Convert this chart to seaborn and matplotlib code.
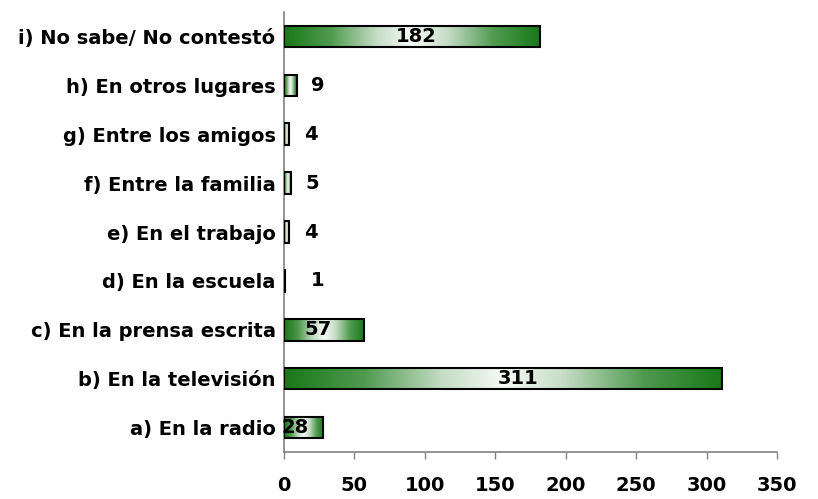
import matplotlib.pyplot as plt
import numpy as np
import pandas as pd
import seaborn as sns
from matplotlib.colors import LinearSegmentedColormap

# datos (de arriba hacia abajo)
categorias = [
    "i) No sabe/ No contestó",
    "h) En otros lugares",
    "g) Entre los amigos",
    "f) Entre la familia",
    "e) En el trabajo",
    "d) En la escuela",
    "c) En la prensa escrita",
    "b) En la televisión",
    "a) En la radio",
]
valores = [182, 9, 4, 5, 4, 1, 57, 311, 28]
x_ticks = [0, 50, 100, 150, 200, 250, 300, 350]

sns.set_theme(style="white")
plt.rcParams['font.family'] = ['DejaVu Sans']

df = pd.DataFrame({"cat": categorias, "val": valores})

fig = plt.figure(figsize=(8.18, 4.99), dpi=100)
ax = fig.add_axes([0.347, 0.094, 0.603, 0.882])

sns.barplot(data=df, x="val", y="cat", orient="h", ax=ax, width=0.44,
            color="white", edgecolor="black", linewidth=1.5)

# degradado verde-blanco-verde en cada barra
verde = "#187818"
cmap = LinearSegmentedColormap.from_list("g", [
    (0.0, verde), (0.18, "#4f9a4f"), (0.36, "#c4dcc4"), (0.5, "#f7faf7"),
    (0.64, "#c4dcc4"), (0.82, "#4f9a4f"), (1.0, verde)])
grad = np.linspace(0, 1, 256).reshape(1, -1)
for p in ax.patches:
    x0, y0 = p.get_x(), p.get_y()
    w, h = p.get_width(), p.get_height()
    if w <= 0:
        continue
    p.set_facecolor("none")
    p.set_zorder(3)
    im = ax.imshow(grad, cmap=cmap, aspect="auto", extent=[x0, x0 + w, y0 + h, y0],
                   zorder=2, interpolation="bicubic")
    im.set_clip_path(p)

# etiquetas de valores
for i, v in enumerate(valores):
    if v >= 20:
        ax.text(v * 0.56 - 8, i, str(v), ha="center", va="center",
                fontsize=14, fontweight="bold", color="black", zorder=5)
    else:
        ax.text(v + 10 + (8 if v == 1 else 0), i, str(v), ha="left", va="center",
                fontsize=14, fontweight="bold", color="black", zorder=5)

ax.set_xlim(0, 350)
ax.set_ylim(8.5, -0.5)
ax.set_xticks(x_ticks)
ax.set_xlabel("")
ax.set_ylabel("")
ax.tick_params(axis="x", direction="out", length=5, width=1, color="#808080",
               labelsize=14, pad=12, bottom=True)
ax.tick_params(axis="y", length=0, labelsize=14, pad=6)
for lab in ax.get_xticklabels() + ax.get_yticklabels():
    lab.set_fontweight("bold")
    lab.set_color("black")

for s in ["top", "right"]:
    ax.spines[s].set_visible(False)
for s in ["left", "bottom"]:
    ax.spines[s].set_color("#808080")
    ax.spines[s].set_linewidth(1.2)

fig.savefig("out.png", dpi=100)
